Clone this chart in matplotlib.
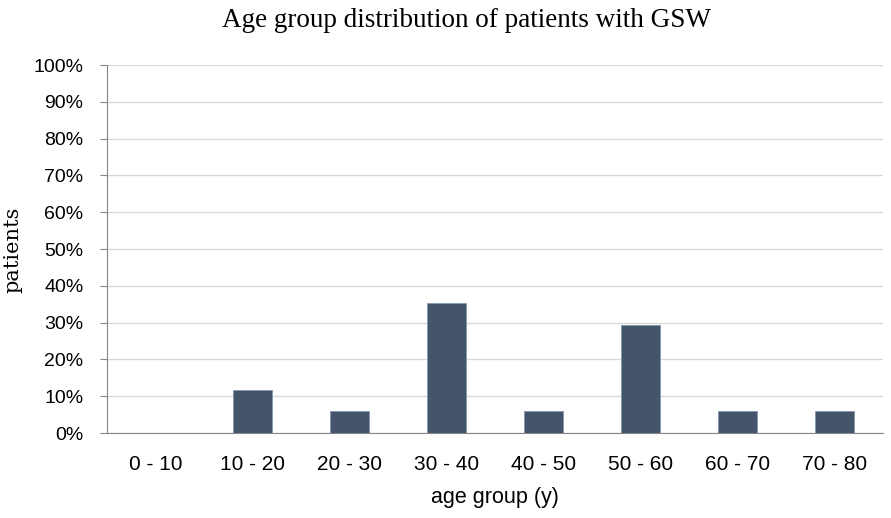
import numpy as np
import matplotlib
matplotlib.use('Agg')
import matplotlib.pyplot as plt
from matplotlib.ticker import PercentFormatter

groups = ['0 - 10', '10 - 20', '20 - 30', '30 - 40', '40 - 50', '50 - 60', '60 - 70', '70 - 80']
share = [0.0, 11.76, 5.88, 35.29, 5.88, 29.41, 5.88, 5.88]

fig = plt.figure(figsize=(8.91, 5.18), dpi=100)
ax = fig.add_axes([0.120, 0.164, 0.871, 0.7105])

x = np.arange(len(groups))
ax.bar(x, share, width=0.4, color='#44546A', edgecolor='#8497B0', linewidth=0.6, zorder=3)

ax.set_xlim(-0.5, len(groups) - 0.5)
ax.set_ylim(0, 100)
ax.set_yticks(np.arange(0, 101, 10))
ax.yaxis.set_major_formatter(PercentFormatter(decimals=0))
ax.set_xticks(x)
ax.set_xticklabels(groups)

for lbl in ax.get_yticklabels():
    lbl.set_fontfamily('Liberation Sans')
    lbl.set_fontsize(14)
for lbl in ax.get_xticklabels():
    lbl.set_fontfamily('Liberation Sans')
    lbl.set_fontsize(15)

ax.grid(axis='y', color='#D9D9D9', linewidth=1, zorder=0)
for s in ['top', 'right']:
    ax.spines[s].set_visible(False)
ax.spines['left'].set_color('#868686')
ax.spines['bottom'].set_color('#868686')
ax.tick_params(axis='y', length=5, color='#868686', pad=12)
ax.tick_params(axis='x', length=0, pad=16)

ax.set_xlabel('age group (y)', fontfamily='Liberation Sans', fontsize=15.5, labelpad=9)
fig.text(0.014, 0.517, 'patients', rotation=90, ha='center', va='center',
         fontfamily='DejaVu Serif', fontsize=15)
fig.text(0.524, 0.961, 'Age group distribution of patients with GSW', ha='center', va='center',
         fontfamily='Liberation Serif', fontsize=19.5)

fig.savefig('out.png', dpi=100)
